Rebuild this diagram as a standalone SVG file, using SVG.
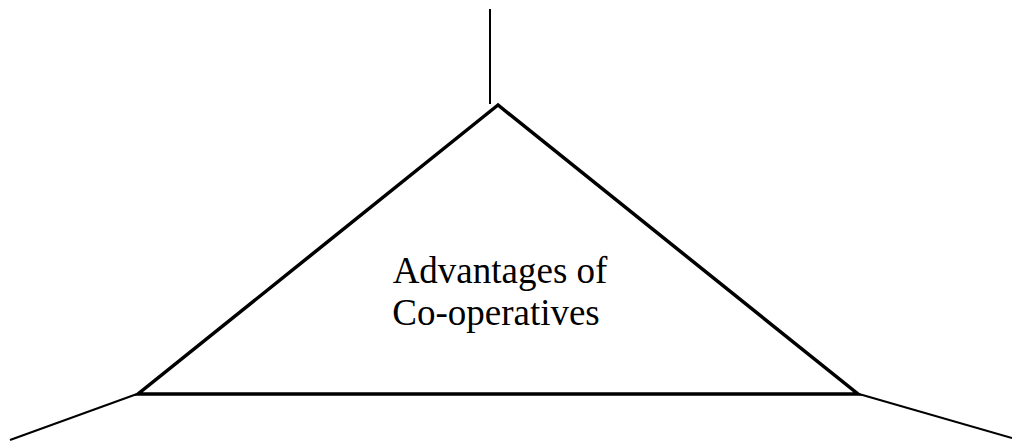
<svg xmlns="http://www.w3.org/2000/svg" width="1012" height="441" viewBox="0 0 1012 441">
<style>
.node{fill:none;stroke:#000;stroke-width:3.5;stroke-linejoin:miter}
.conn{fill:none;stroke:#000;stroke-width:2}
.lbl{font-family:"Liberation Serif","Times New Roman",serif;font-size:37px;fill:#000;text-anchor:middle}
</style>
<rect width="1012" height="441" fill="#fff"/>
<g id="connectors">
<line class="conn" x1="490" y1="9" x2="490" y2="104"/>
<line class="conn" x1="137" y1="394" x2="10" y2="440"/>
<line class="conn" x1="859" y1="394" x2="1012" y2="438"/>
</g>
<g id="node-advantages">
<polygon class="node" points="498,105 138,394 858,394"/>
<text class="lbl" x="500" y="283">Advantages of</text>
<text class="lbl" x="496" y="325">Co-operatives</text>
</g>
</svg>
